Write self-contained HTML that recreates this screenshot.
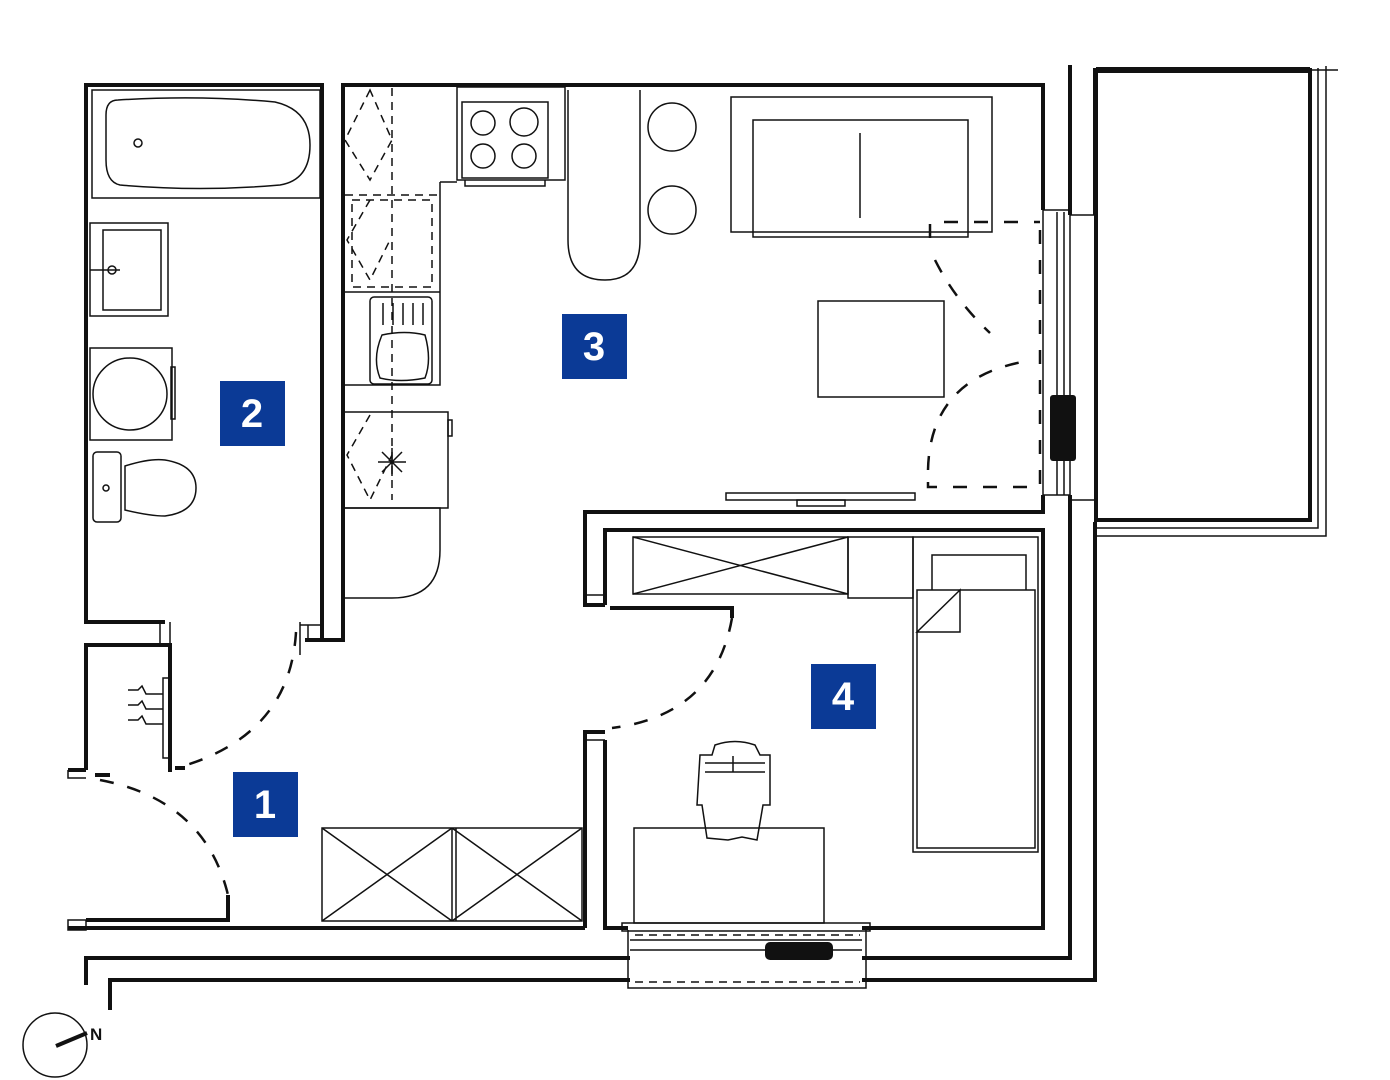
<!DOCTYPE html>
<html><head><meta charset="utf-8"><style>
html,body{margin:0;padding:0;background:#fff;}
svg{display:block}
.w{stroke:#111;stroke-width:4;fill:none}
.t{stroke:#111;stroke-width:1.5;fill:none}
.tf{stroke:#111;stroke-width:1.5;fill:#fff}
.d{stroke:#111;stroke-width:2.5;fill:none;stroke-dasharray:14 14}
.dk{stroke:#111;stroke-width:1.5;fill:none;stroke-dasharray:8 6}
.lab{font-family:"Liberation Sans",sans-serif;font-weight:bold;font-size:40px;fill:#fff}
</style></head><body>
<svg width="1390" height="1080" viewBox="0 0 1390 1080" xmlns="http://www.w3.org/2000/svg">
<path class="w" d="M165 622 H86 V85 H322 V640"/>
<path class="t" d="M160 622 V645 M170 622 V645"/>
<path class="t" d="M300 622 V655 M300 625 H322 M308 625 V640"/>
<path class="w" d="M305 640 H343 V85 H1043 V210 M1043 495 V512 H585 V605 H605"/>
<path class="t" d="M585 595 H605"/>
<path class="w" d="M605 605 V530 H1043 V928 H862 M628 928 H605 V740"/>
<path class="w" d="M610 608 H732 V618"/>
<path class="w" d="M585 928 V732 H605"/>
<path class="t" d="M585 740 H605"/>
<path class="w" d="M170 770 V645 H86 V770"/>
<path class="w" d="M68 770 H86 M95 775 H110 M175 768 H185"/>
<path class="t" d="M68 770 V778 H86"/>
<path class="w" d="M86 920 H228 V895 M68 928 H585"/>
<path class="t" d="M68 920 H86 V930 H68 Z"/>
<path class="w" d="M86 985 V958 H630 M862 958 H1070 V495 M1070 215 V65"/>
<path class="w" d="M110 1010 V980 H630 M862 980 H1095 V522"/>
<path class="w" d="M1095 215 V68"/>
<rect class="w" x="1096" y="70" width="214" height="450"/>
<path class="w" d="M1096 70 H1310" style="stroke-width:6"/>
<path class="t" d="M1318 68 V528 H1096 M1326 66 V536 H1096 M1310 70 H1338"/>
<path class="t" d="M1043 210 H1070 M1043 495 H1070 M1057 212 V495 M1064 212 V495 M1043 210 V495 M1070 215 V495 M1070 215 H1095 M1070 500 H1095"/>
<rect x="1050" y="395" width="26" height="66" rx="3" fill="#111"/>
<rect class="t" x="622" y="923" width="248" height="8"/>
<path class="t" d="M628 930 V988 H866 V930 M630 950 H862 M630 940 H862"/>
<path class="dk" d="M635 982 H860 M635 935 H860"/>
<rect x="765" y="942" width="68" height="18" rx="5" fill="#111"/>
<rect class="t" x="92" y="90" width="228" height="108"/>
<path class="t" d="M118 100 Q200 95 275 102 Q310 110 310 145 Q310 180 280 185 Q200 192 120 185 Q106 182 106 160 V115 Q106 100 118 100Z"/>
<circle class="t" cx="138" cy="143" r="4"/>
<rect class="t" x="90" y="223" width="78" height="93"/>
<rect class="t" x="103" y="230" width="58" height="80"/>
<path class="t" d="M90 270 H120"/><circle class="t" cx="112" cy="270" r="4"/>
<rect class="t" x="90" y="348" width="82" height="92"/>
<ellipse class="t" cx="130" cy="394" rx="37" ry="36"/>
<rect class="t" x="171" y="367" width="4" height="52"/>
<rect class="t" x="93" y="452" width="28" height="70" rx="4"/>
<circle class="t" cx="106" cy="488" r="3"/>
<path class="t" d="M125 466 Q150 458 165 460 Q196 465 196 488 Q196 512 165 516 Q150 516 125 510 Z"/>
<path class="dk" d="M392 88 V500 M345 195 H440 M352 200 H432 V287 H352 Z"/>
<path class="dk" d="M370 90 L345 140 L370 180 L392 140 Z M370 200 L347 240 L370 280 L390 240"/>
<path class="t" d="M345 292 H440 V385 H345 M440 182 H457 M440 182 V292"/>
<rect class="t" x="370" y="297" width="62" height="87" rx="4"/>
<path class="t" d="M383 303 V325 M393 303 V325 M403 303 V325 M413 303 V325 M423 303 V325"/>
<path class="t" d="M382 335 Q405 330 425 335 Q432 360 425 378 Q400 383 380 378 Q372 358 382 335Z"/>
<path class="t" d="M345 412 H448 V508 H345"/>
<rect class="t" x="448" y="420" width="4" height="16"/>
<path class="dk" d="M370 415 L347 455 L370 500 L392 455"/>
<path class="t" d="M378 462 H406 M392 448 V476 M382 452 L402 472 M402 452 L382 472"/>
<path class="t" d="M345 508 H440 V550 Q440 598 392 598 H345"/>
<rect class="t" x="457" y="87" width="108" height="93"/>
<rect class="t" x="462" y="102" width="86" height="76"/>
<circle class="t" cx="483" cy="123" r="12"/><circle class="t" cx="524" cy="122" r="14"/>
<circle class="t" cx="483" cy="156" r="12"/><circle class="t" cx="524" cy="156" r="12"/>
<path class="t" d="M465 180 V186 H545 V180"/>
<path class="t" d="M568 90 V240 Q568 280 605 280 Q640 280 640 240 V90"/>
<circle class="t" cx="672" cy="127" r="24"/><circle class="t" cx="672" cy="210" r="24"/>
<rect class="t" x="731" y="97" width="261" height="135"/>
<rect class="t" x="753" y="120" width="215" height="117"/>
<path class="t" d="M860 133 V218"/>
<rect class="t" x="818" y="301" width="126" height="96"/>
<rect class="t" x="726" y="493" width="189" height="7"/>
<rect class="t" x="797" y="500" width="48" height="6"/>
<path class="d" d="M930 238 V222 H1040 M1040 230 V487 H928 V470" style="stroke-dasharray:14 16"/>
<path class="d" d="M935 260 Q955 300 990 333" />
<path class="d" d="M928 470 Q930 380 1022 362"/>
<rect class="t" x="633" y="537" width="215" height="57"/>
<path class="t" d="M633 537 L848 594 M848 537 L633 594"/>
<rect class="t" x="848" y="537" width="65" height="61"/>
<rect class="t" x="913" y="537" width="125" height="315"/>
<rect class="t" x="917" y="590" width="118" height="258"/>
<path class="t" d="M932 590 V555 H1026 V590 M960 590 L917 632 H960 Z"/>
<rect class="t" x="634" y="828" width="190" height="95"/>
<path class="t" d="M700 755 H712 L715 745 Q735 738 755 745 L760 755 H770 V805 H763 L757 840 L742 837 L728 840 L707 838 L702 805 H697 Z M705 763 H765 M705 772 H765 M733 756 V772"/>
<path class="d" d="M732 618 Q715 715 612 728"/>
<path class="d" d="M296 632 Q290 735 180 767" />
<path class="d" d="M100 780 Q205 800 228 895"/>
<path class="w" d="M170 668 V772"/><rect class="t" x="163" y="678" width="7" height="80"/>
<path class="t" d="M128 690 H138 L142 686 L146 694 H163 M128 705 H138 L142 701 L146 709 H163 M128 720 H138 L142 716 L146 724 H163"/>
<rect class="t" x="322" y="828" width="260" height="93"/>
<path class="t" d="M322 828 L452 921 M452 828 L322 921 M452 828 L582 921 M582 828 L452 921 M452 828 V921 M456 828 V921"/>
<circle class="t" cx="55" cy="1045" r="32"/>
<path d="M56 1046 L87 1033" stroke="#111" stroke-width="4"/>
<text x="90" y="1040" font-family="Liberation Sans,sans-serif" font-weight="bold" font-size="17" fill="#111">N</text>
<rect x="233" y="772" width="65" height="65" fill="#0b3a96"/><text class="lab" x="265" y="818" text-anchor="middle">1</text>
<rect x="220" y="381" width="65" height="65" fill="#0b3a96"/><text class="lab" x="252" y="427" text-anchor="middle">2</text>
<rect x="562" y="314" width="65" height="65" fill="#0b3a96"/><text class="lab" x="594" y="360" text-anchor="middle">3</text>
<rect x="811" y="664" width="65" height="65" fill="#0b3a96"/><text class="lab" x="843" y="710" text-anchor="middle">4</text>
</svg>
</body></html>
